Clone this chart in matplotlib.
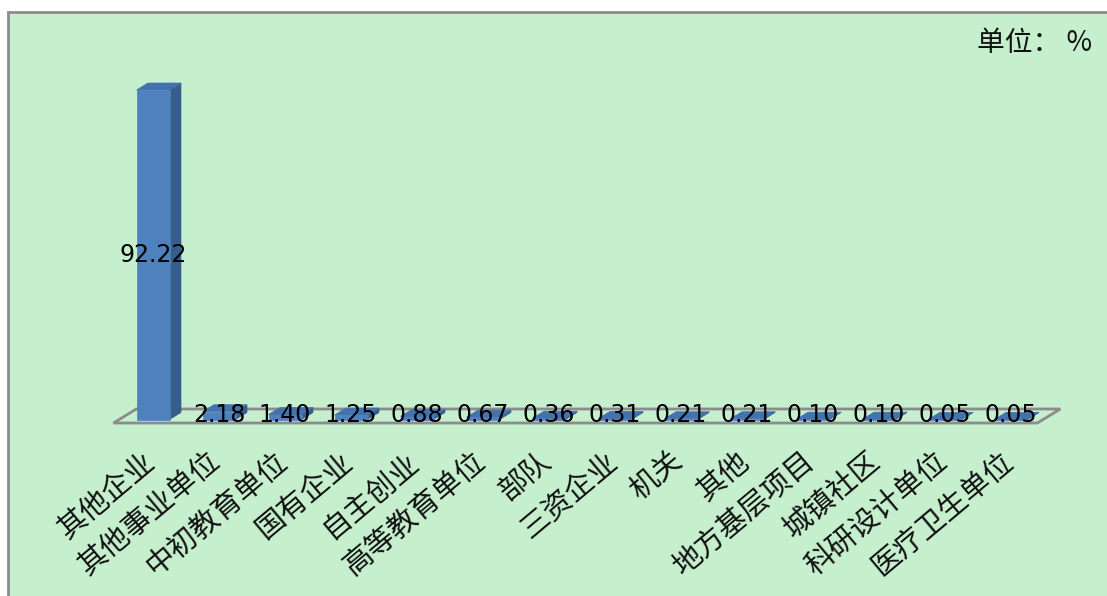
import matplotlib
matplotlib.use("Agg")
import matplotlib.pyplot as plt
from matplotlib.patches import Rectangle, Polygon

plt.rcParams['font.family'] = ['Noto Sans CJK SC', 'DejaVu Sans']

# data
categories = ['其他企业', '其他事业单位', '中初教育单位', '国有企业', '自主创业', '高等教育单位',
              '部队', '三资企业', '机关', '其他', '地方基层项目', '城镇社区', '科研设计单位', '医疗卫生单位']
values = [92.22, 2.18, 1.40, 1.25, 0.88, 0.67, 0.36, 0.31, 0.21, 0.21, 0.10, 0.10, 0.05, 0.05]
value_labels = ['%.2f' % v for v in values]
unit_text = '单位： %'

W, H = 1107, 596
fig = plt.figure(figsize=(W / 100, H / 100), dpi=100)
fig.patch.set_facecolor('white')

# chart area background + border
bg = Rectangle((8 / W, -0.05), 1.1, (H - 12) / H + 0.05, transform=fig.transFigure,
               facecolor='#C6EFCE', edgecolor='#8c8c8c', linewidth=2, zorder=-5)
fig.patches.append(bg)

ax = fig.add_axes([0, 0, 1, 1])
ax.set_facecolor('none')
ax.axis('off')
ax.set_zorder(5)

# pixel -> data mapping
x0px, xstep = 153, 66.0
y0px, ystep = 419.5, 3.573
ax.set_xlim(-x0px / xstep, (W - x0px) / xstep)
ax.set_ylim(-(H - y0px) / ystep, y0px / ystep)

w = 0.5          # bar front width
dx, dy = 0.174, 1.96   # bar depth offset
n = len(values)

# floor
fx0, fx1, fy = -0.6, n - 0.6, -dy / 2
floor = Polygon([(fx0, fy), (fx1, fy), (fx1 + 2 * dx, fy + 2 * dy), (fx0 + 2 * dx, fy + 2 * dy)],
                closed=True, facecolor='none', edgecolor='#8c8c8c', linewidth=2, zorder=1)
ax.add_patch(floor)

front_c, side_c, top_c = '#4F81BD', '#365D8C', '#4373AD'
xs = list(range(n))
ax.bar(xs, values, width=w, color=front_c, edgecolor=front_c, linewidth=0.5, zorder=3)
for i, v in zip(xs, values):
    side = Polygon([(i + w / 2, 0), (i + w / 2 + dx, dy), (i + w / 2 + dx, v + dy), (i + w / 2, v)],
                   closed=True, facecolor=side_c, edgecolor=side_c, linewidth=0.5, zorder=2)
    top = Polygon([(i - w / 2, v), (i + w / 2, v), (i + w / 2 + dx, v + dy), (i - w / 2 + dx, v + dy)],
                  closed=True, facecolor=top_c, edgecolor=top_c, linewidth=0.5, zorder=3)
    ax.add_patch(side)
    ax.add_patch(top)

# value labels
for i, (v, s) in enumerate(zip(values, value_labels)):
    ax.text(i, max(v / 2, 1.2), s, ha='center', va='center', fontsize=17,
            family='DejaVu Sans', color='black', zorder=5)

# category labels
for i, c in enumerate(categories):
    ax.text(i - 0.17, -7.6, c, rotation=40, rotation_mode='anchor', ha='right', va='top',
            fontsize=21, color='#111111', zorder=5)

fig.text(1092 / W, 1 - 43 / H, unit_text, ha='right', va='center', fontsize=20, color='#111111')

fig.savefig('out.png', dpi=100)
